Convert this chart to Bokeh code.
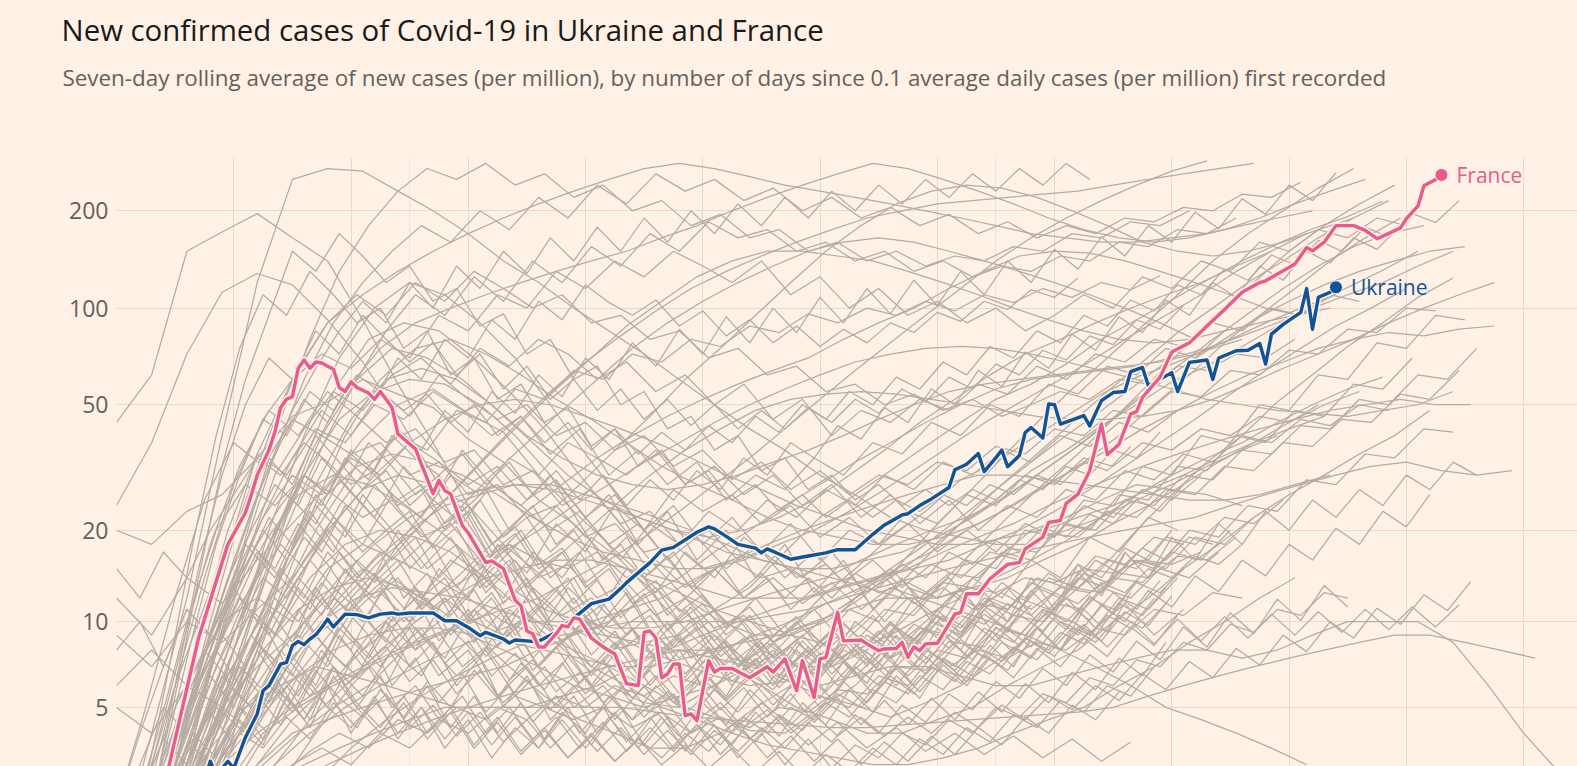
import numpy as np
from jinja2 import Template
from bokeh.plotting import figure
from bokeh.models import Range1d, FixedTicker, CustomJSTickFormatter, Label, Grid, Title
from bokeh.embed import file_html
from bokeh.resources import INLINE

# ---------------- data ----------------
title_text = "New confirmed cases of Covid-19 in Ukraine and France"
subtitle_text = ("Seven-day rolling average of new cases (per million), by number of days "
                 "since 0.1 average daily cases (per million) first recorded")

y_tick_values = [5, 10, 20, 50, 100, 200]
x_grid_days = [20, 40, 60, 80, 100, 120, 140, 160, 180, 200, 220, 240]
y_view = [2.95, 292]
x_view = [0, 249.2]

france_days = [0, 5, 9, 14, 18, 19, 22, 23, 24, 26, 27, 28, 29, 30, 31, 32, 33, 34, 35, 36, 37, 38,
               39, 40, 41, 43, 44, 45, 47, 48, 51, 52, 54, 55, 56, 57, 59, 60, 63, 64, 66, 68,
               69, 70, 71, 72, 73, 75, 76, 77, 78, 79, 81, 83, 85, 87, 89, 90, 91, 92, 93, 94,
               95, 96, 97, 98, 99, 101, 102, 103, 105, 108, 111, 112, 114, 116, 117, 119, 120, 121, 123, 124,
               127, 128, 130, 131, 133, 134, 135, 136, 137, 138, 140, 143, 144, 145, 147, 149, 152, 154, 155, 158,
               159, 161, 162, 164, 166, 168, 169, 171, 173, 174, 175, 178, 180, 183, 186, 189, 192, 195, 196, 199,
               201, 203, 204, 206, 208, 211, 213, 215, 216, 219, 220, 222, 223, 225, 226]
france_cases = [0.1, 1.0, 3.0, 8.8, 15.7, 18, 22.8, 26, 30, 36, 41, 49, 52, 53, 65, 69, 65, 68, 67.5, 66, 64.6, 56.6,
                55, 59, 56.6, 54.4, 52, 55, 49, 40.5, 36.3, 32.5, 26.2, 28.9, 26.8, 26.1, 20.7, 19.6, 15.7, 15.9, 15, 11.8,
                11.3, 9.3, 9.1, 8.2, 8.2, 9.1, 9.7, 9.6, 10.3, 10.2, 8.8, 8.2, 7.75, 6.1, 6.0, 9.2, 9.3, 8.8, 6.4, 6.6,
                7.15, 7.15, 4.66, 4.73, 4.46, 7.35, 6.7, 6.9, 6.9, 6.4, 7.0, 6.7, 7.45, 5.75, 7.35, 5.44, 7.45, 7.55, 10.75, 8.6,
                8.66, 8.4, 7.96, 8.07, 8.1, 8.5, 7.55, 8.2, 7.96, 8.4, 8.44, 10.6, 10.75, 12.4, 12.4, 13.9, 15.5, 15.7, 17.4, 19,
                21.2, 21.5, 24.4, 26.1, 31, 43.5, 34.8, 37.6, 46.8, 47.6, 52.7, 61, 73, 78, 88, 99, 112, 120, 121.5, 130.5,
                137, 154, 150.5, 160, 180, 180, 174, 164, 167, 177, 189, 207, 239, 250, 258]

ukraine_days = [0, 8, 12, 15, 16, 17, 18, 19, 20, 22, 24, 25, 26, 28, 29, 30, 31, 32, 33, 34,
                35, 36, 37, 39, 41, 43, 45, 47, 48, 50, 52, 54, 56, 58, 60, 62, 63, 66, 67, 68,
                71, 72, 75, 79, 81, 84, 86, 87, 91, 93, 95, 99, 101, 102, 104, 106, 109, 110, 111, 113,
                115, 118, 121, 123, 126, 129, 131, 134, 135, 137, 139, 142, 143, 145, 147, 148, 150, 151, 152, 154,
                155, 156, 158, 159, 160, 161, 165, 166, 168, 170, 172, 173, 175, 176, 180, 181, 183, 186, 187, 188,
                191, 193, 195, 196, 197, 199, 202, 203, 204, 205, 207, 208]
ukraine_cases = [0.1, 1.0, 2.0, 2.6, 3.1, 2.7, 2.9, 3.1, 2.9, 3.86, 4.73, 5.75, 6.0, 7.15, 7.25, 8.28, 8.57, 8.35, 8.73, 9.03,
                 9.56, 10.2, 9.6, 10.6, 10.56, 10.3, 10.6, 10.7, 10.6, 10.7, 10.7, 10.7, 10.07, 10.07, 9.56, 8.96, 9.2, 8.73, 8.46, 8.66,
                 8.57, 8.57, 9.2, 10.66, 11.5, 11.9, 12.9, 13.5, 15.7, 17.25, 17.6, 19.7, 20.5, 20.2, 19.1, 18, 17.5, 16.9, 17.4, 16.75,
                 16.1, 16.5, 16.9, 17.3, 17.3, 19.4, 20.8, 22.4, 22.6, 24, 25.2, 27.4, 31.2, 32.5, 35.1, 30.8, 34.1, 36, 31.9, 34.6,
                 40.9, 42.4, 39.3, 50.3, 50, 43.5, 46.2, 42.9, 51.5, 54.6, 55, 63.5, 65.4, 57.3, 63, 55, 67.8, 69, 60, 70,
                 73.7, 74, 77.6, 67, 83, 89, 97, 115, 86, 108, 112, 116]

# other countries, group A: one value every 6 days from the matching offset
other_step_a = 6
other_01 = [44, 62, 150, 172, 196, 165, 140, 92, 58, 38, 24, 16, 12, 9.5, 8, 8.5, 9, 11, 13, 17, 22, 26, 31, 37, 44, 52, 58, 67, 80, 92, 106, 122, 140, 158, 176, 192, 214]
other_02 = [24, 38, 72, 112, 128, 118, 92, 68, 46, 30, 21, 14, 9.5, 7.5, 6, 5.2, 5, 6, 7.5, 9, 12, 15, 19, 23, 29, 33, 39, 46, 54, 61, 67, 74, 80]
other_03 = [20, 18, 23, 26, 34, 46, 51, 60, 54, 49, 39, 33, 25, 21, 16, 14, 12.5, 11, 10, 9.2, 10, 12, 14, 17, 21, 25, 31, 36, 43, 50, 59, 66, 76, 88, 101, 116, 131, 150]
other_04 = [12, 9, 14, 11.5, 16, 21, 28, 39, 50, 56, 47, 41, 30, 23, 18, 14, 11, 9, 7.2, 6.3, 5.5, 5.1, 4.6, 5.2, 6, 7.3, 9, 12, 15, 20, 26, 33, 40, 51, 62, 76, 90, 108, 124]
other_05 = [9, 7, 10, 8.5, 11, 14, 20, 27, 30, 28, 24, 18, 14.5, 11, 9.2, 8, 7.2, 6.5, 6, 6.2, 7, 8, 9, 10.5, 12, 14, 16, 18.5, 22, 26, 30, 34, 38, 44, 50, 56, 61]
other_06 = [6, 8, 6, 10, 12, 10, 15, 18, 16, 14, 12, 10, 9, 8, 7, 6, 5.1, 4.6, 4.1, 4, 5, 6, 8, 10, 13, 16, 20, 22, 25, 28, 27, 26, 24]
other_07 = [5, 4, 6, 5, 7, 9, 12, 15, 13, 11, 9, 8, 7, 6, 5.5, 5, 5.5, 6, 7, 8, 10, 12, 15, 18, 22, 27, 33, 40, 48, 58, 70]
other_08 = [0.5, 1, 3, 7, 15, 30, 55, 80, 90, 85, 70, 55, 42, 30, 22, 16, 12, 10, 9, 9, 10, 12, 15, 20, 26, 34, 44, 56, 70, 88, 110, 140, 170, 200, 235, 270]
other_09 = [0.3, 0.8, 2, 5, 11, 22, 40, 60, 75, 80, 72, 62, 52, 45, 38, 32, 28, 25, 22, 20, 19, 18, 18, 19, 21, 24, 28, 33, 40, 50, 62, 78, 95, 115, 140, 165, 190]
other_10 = [0.5, 1.5, 4, 9, 18, 30, 45, 55, 60, 58, 50, 40, 30, 22, 16, 12, 9, 7, 6, 5, 4.5, 4, 4, 4.5, 5, 6, 7, 8, 10, 12, 15, 18, 22, 26, 30, 35, 40, 48]
other_11 = [0.4, 1, 3, 8, 20, 40, 70, 100, 120, 110, 90, 70, 50, 35, 25, 18, 13, 10, 8, 7, 7, 8, 10, 13, 17, 22, 28, 35, 45, 58, 75, 95, 120, 150, 180, 210, 240]
other_12 = [0.3, 1, 2.5, 6, 14, 28, 45, 60, 65, 60, 50, 40, 34, 30, 28, 27, 28, 30, 33, 36, 40, 45, 50, 55, 58, 60, 62, 64, 66, 68, 72, 80, 90, 100, 110]
other_13 = [0.5, 1.5, 4, 10, 22, 40, 60, 75, 70, 60, 48, 38, 30, 25, 22, 20, 19, 20, 22, 25, 30, 36, 44, 52, 62, 72, 80, 90, 100, 110, 120, 135, 150]
other_14 = [0.4, 1.2, 3.5, 8, 16, 25, 32, 35, 33, 30, 26, 22, 19, 17, 16, 15, 15, 16, 18, 20, 23, 27, 32, 38, 45, 52, 60, 70, 82, 95, 110, 130, 150, 170]
other_15 = [1, 4, 12, 40, 120, 250, 270, 265, 230, 200, 170, 140, 120, 100, 85, 72, 60, 50, 42, 36, 30, 26, 22, 20, 19, 18, 18, 20, 22, 25, 28, 32, 36, 40]
other_16 = [0.3, 0.6, 1, 2, 3, 4, 5, 6, 8, 10, 13, 17, 22, 28, 36, 46, 60, 75, 95, 120, 150, 180, 210, 230, 240, 235, 220, 200, 180, 160, 150, 145, 150, 160, 175, 190]
other_17 = [0.5, 1, 2, 4, 6, 9, 12, 16, 20, 26, 34, 44, 56, 70, 88, 105, 125, 140, 150, 150, 145, 140, 130, 120, 110, 100, 92, 85, 80, 78, 80, 85, 90, 95, 100]
other_18 = [0.4, 1, 2, 3.5, 5, 7, 10, 14, 19, 25, 33, 43, 55, 68, 82, 98, 115, 130, 145, 160, 175, 190, 200, 210, 215, 220, 225, 230, 240, 250, 260, 270, 280]
other_19 = [1, 2, 3, 5, 7, 9, 11, 14, 18, 23, 30, 38, 48, 60, 75, 90, 105, 120, 135, 150, 160, 165, 160, 150, 140, 130, 120, 110, 100, 90, 80]
other_20 = [0.5, 1, 2, 3, 4, 5, 6, 7, 8, 9, 10, 11, 12, 14, 16, 19, 23, 28, 34, 42, 52, 64, 78, 95, 115, 140, 165, 190, 215, 240, 265, 285]
other_21 = [0.3, 0.8, 1.5, 2.5, 4, 5, 6, 7, 8, 9, 10, 12, 15, 19, 24, 30, 36, 42, 48, 52, 54, 55, 54, 52, 50, 48, 46, 45, 45, 46, 48, 52, 58, 65, 72, 80, 90, 100, 110, 120]
other_22 = [0.5, 1, 1.5, 2, 3, 4, 5, 6, 7, 8, 9, 10, 10, 10, 11, 12, 14, 16, 18, 20, 22, 24, 26, 28, 30, 30, 29, 28, 27, 26, 25, 25, 26, 28, 30]
other_23 = [0.4, 0.8, 1.5, 3, 5, 8, 12, 16, 20, 24, 26, 28, 28, 26, 24, 22, 20, 18, 16, 15, 14, 13, 12, 12, 13, 14, 16, 18, 21, 24, 28, 33, 38, 44, 50, 55]
other_24 = [0.3, 0.6, 1.2, 2, 3, 4, 4.5, 5, 5.5, 6, 6.5, 7, 8, 9, 10, 12, 14, 17, 20, 24, 28, 33, 38, 44, 50, 56, 60, 62, 64, 66, 70, 75, 82, 90, 100, 110, 120, 135, 150]
other_25 = [1, 2, 3.5, 5, 6, 7, 6.5, 6, 5.5, 5, 5, 5, 5.5, 6, 7, 8, 9, 10, 11, 12, 13, 14, 15, 16, 18, 20, 23, 27, 32, 38, 45, 54, 64, 75, 88, 100, 115]
other_26 = [0.6, 1.5, 3, 5, 8, 11, 13, 14, 13, 11, 9, 7, 5.5, 4.5, 4, 3.5, 3.5, 4, 5, 6, 8, 10, 13, 17, 22, 28, 35, 44, 55, 68, 84, 100, 120, 140, 165, 190, 215]
other_27 = [0.5, 1.2, 2.5, 5, 9, 14, 18, 20, 19, 17, 14, 11, 9, 7, 6, 5, 4.5, 4, 3.6, 3.4, 3.2, 3, 3, 3.2, 3.5, 4, 4.5, 5, 6, 7, 8.5, 10, 12, 14]
other_28 = [0.4, 1, 2, 4, 7, 10, 12, 13, 12.5, 12, 11, 10, 9.5, 9, 8.5, 8, 8, 8.5, 9, 10, 11, 12, 12, 11, 10, 9, 8, 7, 6, 5, 4.5, 4, 3.5, 3]
other_29 = [0.5, 1.5, 3, 6, 10, 15, 22, 30, 38, 45, 50, 52, 50, 46, 42, 38, 34, 30, 27, 24, 22, 20, 19, 18, 18, 19, 20, 22, 24, 27, 30, 34, 38, 42, 46]
other_30 = [0.3, 0.7, 1.2, 2, 3, 4.5, 6, 8, 10, 12, 14, 17, 20, 24, 28, 33, 38, 44, 50, 56, 62, 68, 72, 75, 76, 75, 72, 68, 64, 60, 56, 52, 50, 48, 47, 46, 48, 50, 55]
other_31 = [0.2, 0.4, 0.8, 1.5, 2.5, 4, 6, 8, 11, 14, 18, 23, 28, 34, 40, 46, 52, 58, 64, 70, 80, 90, 100, 115, 130, 145, 150, 148, 140, 130, 120, 110, 100, 95]
other_32 = [0.6, 1.8, 4.5, 10, 18, 26, 30, 28, 24, 20, 16, 13, 11, 10, 9.5, 9.5, 10, 11, 12, 13, 14, 16, 18, 20, 22, 25, 30, 36, 44, 54, 66, 80, 96, 115, 135, 155, 170, 180]
other_33 = [0.3, 0.6, 1, 1.5, 2, 2.5, 3, 3.5, 4, 4.5, 5, 5.5, 6, 6.5, 7, 7.5, 8, 7.5, 7, 6.5, 6, 6.5, 7, 7, 6.5, 6, 6, 6.5, 7, 7.5, 8, 8, 7.5, 8, 9, 10, 10, 10, 8.5, 6, 4, 2.8]
other_34 = [0.5, 1, 1.5, 2, 2.5, 3, 3.5, 4, 4.5, 5, 5, 5, 5, 5, 5, 4.8, 4.6, 4.5, 4.4, 4.3, 4.2, 4.2, 4.3, 4.4, 4.5, 4.6, 4.7, 4.8, 5, 5.5, 6, 6.5, 7, 7.5, 8, 8.5, 9, 9, 8.5, 8, 7.5]
other_35 = [0.3, 0.6, 1, 1.8, 3, 4.5, 6, 8, 10, 12, 14, 15, 16, 16, 15, 14, 13, 12, 12, 12, 13, 14, 15, 17, 19, 21, 24, 27, 30, 33, 36, 39, 42, 45, 48, 50, 52, 50, 50]
other_36 = [0.4, 1, 2, 3.5, 5, 6.5, 8, 9, 9.5, 9.5, 9, 8.5, 8, 7.5, 7, 7, 7.5, 8, 9, 10, 11.5, 13, 15, 17, 20, 23, 27, 31, 36, 42, 48, 55, 62, 68, 75, 80, 84, 82, 86, 88]
other_37 = [0.5, 1.2, 2.5, 4.5, 7, 10, 14, 18, 22, 25, 27, 28, 27, 25, 23, 21, 19, 17, 16, 15, 15, 16, 17, 19, 22, 26, 31, 37, 45, 55, 66, 78, 92, 105, 118, 130, 140, 150, 155]
other_38 = [0.3, 0.5, 0.8, 1.2, 1.8, 2.5, 3.5, 4.5, 5.5, 6.5, 7.5, 8.5, 9, 9.5, 10, 10, 10, 10, 10.5, 11, 12, 13, 14, 15, 16, 17, 18, 19, 20, 21, 22, 24, 26, 28, 30, 32, 33, 31, 30, 31]
other_39 = [0.5, 2, 6, 15, 35, 60, 90, 110, 130, 150, 170, 190, 210, 230, 250, 270, 280, 270, 255, 240, 230, 220, 210, 200, 190, 180, 170, 165, 160, 160, 165, 170, 180, 190, 200]
other_40 = [0.4, 1, 3, 8, 18, 35, 55, 75, 90, 100, 110, 120, 130, 140, 150, 165, 180, 200, 220, 240, 260, 280, 270, 250, 230, 210, 190, 175, 165, 160, 165, 175, 190, 210, 230, 250]
other_offsets_a = [0, 0, 0, 0, 0, 0, 0, 1, 3, 2, 2, 4, 5, 5, 0, 1, 3, 2, 4, 0,
                   1, 3, 2, 0, 4, 1, 3, 5, 2, 0, 4, 1, 0, 2, 3, 1, 2, 4, 0, 3]

# group B: one value every 5 days from the matching offset
other_step_b = 5
other_41 = [0.5, 2, 6, 14, 28, 45, 60, 72, 65, 80, 70, 95, 85, 110, 100, 130, 115, 140, 125, 150, 135, 120, 140, 110, 125, 100, 115, 95, 105, 90, 100, 85, 95, 110, 100, 125, 115, 140, 130, 160, 150, 175, 165, 190, 180]
other_42 = [0.3, 1, 3, 8, 16, 30, 42, 55, 48, 62, 70, 58, 75, 66, 80, 72, 60, 68, 55, 62, 50, 58, 45, 52, 40, 48, 44, 52, 48, 58, 54, 66, 60, 72, 68, 80, 76, 90, 85, 100, 95, 110, 105]
other_43 = [1, 3, 9, 20, 35, 30, 42, 38, 50, 45, 55, 48, 40, 46, 35, 42, 30, 36, 28, 33, 25, 30, 27, 34, 30, 38, 35, 44, 40, 50, 46, 58, 54, 66, 62, 75, 70, 85]
other_44 = [0.5, 1.5, 4, 10, 22, 40, 65, 90, 110, 95, 120, 105, 130, 115, 100, 110, 90, 95, 80, 85, 70, 75, 62, 66, 55, 58, 50, 54, 48, 52, 46, 50, 55, 52, 60, 58, 66, 64, 72, 70, 80]
other_45 = [0.2, 0.6, 1.5, 3, 6, 10, 16, 24, 32, 40, 36, 48, 44, 56, 52, 64, 60, 72, 68, 80, 76, 88, 84, 96, 90, 100, 95, 105, 98, 110, 104, 115, 108, 120, 114, 126]
other_46 = [0.4, 1.2, 3, 7, 14, 22, 30, 26, 34, 30, 38, 33, 28, 32, 25, 29, 22, 26, 20, 24, 18, 22, 17, 21, 16, 20, 18, 23, 21, 26, 24, 30, 28, 34, 32, 38, 36, 42, 40, 46, 44, 50]
other_47 = [0.5, 1, 2, 4, 7, 11, 16, 22, 18, 26, 22, 30, 26, 34, 30, 38, 34, 30, 36, 28, 32, 26, 30, 24, 28, 22, 26, 21, 25, 20, 24, 22, 27, 25, 31, 29, 35, 33, 40, 38, 45, 43, 50, 48]
other_48 = [0.5, 1.5, 3.5, 7, 12, 9, 14, 11, 16, 13, 10, 12, 8.5, 11, 7.5, 9.5, 6.5, 8.5, 6, 8, 5.5, 7.5, 6, 8.5, 7, 10, 8.5, 12, 10, 14, 12, 16, 14, 19, 17, 22, 20]
other_49 = [0.3, 1, 2.5, 5, 9, 14, 11, 17, 13, 20, 15, 18, 13, 16, 11, 14, 9.5, 12, 8, 10, 7, 9, 6.5, 8, 6, 7.5, 6, 8, 7, 9.5, 8.5, 11, 10, 13, 12, 15, 14, 17]
other_50 = [1, 2.5, 5, 8, 6, 10, 8, 12, 9, 7, 9.5, 6.5, 8, 5.5, 7, 5, 6.5, 4.5, 6, 4.2, 5.5, 4, 5.2, 4.3, 5.5, 5, 6.5, 6, 8, 7.5, 9.5, 9, 11.5, 11, 14, 13.5, 17, 16, 20]
other_51 = [0.4, 1.2, 3, 6, 10, 16, 24, 19, 28, 22, 18, 24, 16, 20, 14, 17, 12, 15, 10.5, 13, 9.5, 12, 9, 11, 8.5, 10.5, 8, 10, 9, 12, 11, 14, 13, 16, 15, 19, 18, 22, 21, 25]
other_52 = [0.6, 2, 5, 10, 18, 14, 22, 17, 26, 20, 15, 19, 13, 16, 11, 14, 9.5, 12.5, 8.5, 11, 8, 10, 7.5, 9, 7, 8.5, 7.5, 9.5, 9, 11.5, 11, 14, 13, 16.5, 15.5, 19, 18]
other_53 = [0.3, 0.8, 2, 4, 7, 5.5, 9, 7, 11, 8.5, 13, 10, 15, 12, 17, 14, 19, 16, 21, 18, 23, 20, 25, 22, 27, 24, 30, 27, 33, 30, 36, 33, 40, 37, 44, 41, 48]
other_54 = [0.5, 1.5, 3.5, 6.5, 5, 8, 6, 9.5, 7.5, 11, 8.5, 6.5, 8, 5.5, 7, 5, 6, 4.5, 5.5, 4, 5, 3.8, 4.6, 3.6, 4.4, 3.5, 4.2, 3.4, 4, 3.3, 3.9, 3.2, 3.8, 3.1, 3.7]
other_55 = [0.4, 1, 2, 3.5, 5.5, 8, 6.5, 10, 8, 12.5, 10, 15, 12, 18, 14.5, 21, 17, 24, 20, 27, 23, 26, 21, 24, 19, 22, 18, 21, 17, 20, 17, 21, 19, 24, 22, 27, 25, 30]
other_56 = [1, 2, 3.5, 5, 4, 6, 4.5, 7, 5.5, 8, 6.5, 9.5, 7.5, 11, 9, 13, 10.5, 15, 12.5, 17, 14, 19, 16, 14, 17, 13, 15, 12, 14, 11, 13, 10, 12, 9.5, 11.5, 9, 11]
other_57 = [0.5, 1.2, 2.5, 4.5, 8, 13, 20, 28, 22, 32, 25, 36, 28, 24, 30, 21, 26, 18, 23, 16, 20, 14, 18, 12.5, 16, 11, 14, 10, 13, 9.5, 12, 11, 14, 13, 16, 15, 19, 18, 22]
other_58 = [0.3, 0.7, 1.5, 3, 5, 4, 6.5, 5, 8, 6, 9.5, 7.5, 11, 9, 13, 10.5, 12, 9.5, 11, 8.5, 10, 7.5, 9, 7, 8.5, 6.5, 8, 6, 7.5, 6.5, 8.5, 7.5, 10, 9, 12, 11, 14]
other_59 = [0.3, 0.6, 1, 1.5, 2, 2.5, 3, 3.5, 3, 4, 3.5, 4.5, 4, 5, 4.5, 5.5, 5, 6, 5.5, 6.5, 6, 7.5, 7, 9, 8.5, 11, 10, 13, 12, 16, 15, 20, 19, 25, 24, 32, 30, 40, 38, 50, 48, 62, 60, 78, 75, 95, 92]
other_60 = [0.2, 0.5, 0.9, 1.4, 2, 2.7, 3.4, 4, 3.5, 4.5, 4, 5, 4.5, 5.5, 5, 4.5, 5, 4.2, 4.8, 4, 4.6, 4.2, 5, 4.8, 5.8, 5.6, 7, 6.8, 8.5, 8.2, 10.5, 10, 13, 12.5, 16, 15.5, 20, 19, 24, 23, 29, 28, 35, 34, 42, 41]
other_61 = [0.4, 0.8, 1.5, 2.5, 4, 6, 5, 8, 6.5, 10, 8, 12, 10, 9, 11, 8.5, 10, 8, 9.5, 7.5, 9, 7, 8.5, 7, 9, 8.5, 11, 10.5, 13.5, 13, 17, 16, 21, 20, 26, 25, 32, 31, 40, 38, 48, 46, 58, 56, 70]
other_62 = [0.5, 1, 2, 3, 4.5, 6.5, 9, 12, 10, 14, 12, 16, 14, 18, 16, 15, 17, 14, 16, 13, 15, 12, 14, 11.5, 13.5, 11, 13, 12, 14.5, 14, 17.5, 17, 21, 20, 25, 24, 30, 29, 36, 35, 43, 42, 52, 50, 62, 60, 75]
other_63 = [0.3, 0.7, 1.3, 2.2, 3.5, 5, 7, 10, 14, 19, 25, 21, 28, 24, 20, 23, 18, 21, 16, 19, 15, 18, 14, 17, 13.5, 16, 13, 15.5, 14, 17, 16, 19.5, 19, 23, 22, 27, 26, 32, 31, 38, 37, 45, 44, 54, 52, 64]
other_64 = [0.5, 1.5, 3.5, 7, 13, 22, 34, 48, 40, 55, 46, 62, 52, 45, 50, 40, 44, 36, 40, 32, 36, 29, 33, 27, 31, 26, 30, 28, 33, 31, 37, 35, 42, 40, 48, 46, 55, 53, 64, 62, 74, 72, 86, 84, 100, 98]
other_65 = [0.4, 1, 3, 8, 18, 35, 60, 90, 120, 150, 180, 160, 200, 175, 220, 190, 240, 210, 260, 230, 250, 215, 235, 200, 220, 190, 205, 180, 195, 170, 185, 165, 180, 170, 190, 185, 205, 200, 225, 220, 245]
other_66 = [0.3, 0.8, 2, 4, 8, 15, 25, 40, 60, 85, 110, 95, 125, 105, 140, 120, 155, 135, 170, 150, 185, 165, 175, 150, 160, 140, 150, 130, 140, 125, 135, 130, 145, 140, 160, 155, 175, 170, 190]
other_67 = [0.5, 1.5, 4, 10, 22, 45, 80, 130, 180, 230, 270, 250, 280, 240, 260, 220, 240, 200, 215, 180, 195, 165, 175, 150, 160, 140, 150, 135, 145, 140, 155, 150, 170, 165, 185, 180, 200]
other_68 = [2, 5, 12, 25, 38, 32, 45, 40, 35, 38, 30, 33, 26, 28, 22, 24, 19, 21, 17, 18, 15, 16, 14, 15, 13, 14, 12.5, 13.5, 12, 13, 12.5, 14, 13.5, 15, 14.5, 16, 15.5, 17]
other_69 = [1, 3, 8, 18, 32, 48, 40, 55, 46, 38, 42, 33, 36, 28, 31, 24, 27, 21, 23, 18, 20, 16, 17.5, 14, 15.5, 12.5, 14, 11.5, 13, 11, 12.5, 11, 13, 12.5, 14.5, 14, 16.5, 16, 19]
other_70 = [1.5, 4, 10, 20, 28, 24, 30, 26, 22, 25, 19, 21, 16, 18, 14, 15.5, 12, 13.5, 10.5, 12, 9.5, 10.5, 8.5, 9.5, 8, 9, 7.5, 8.5, 7, 8, 7.5, 8.5, 8, 9.5, 9, 11, 10.5, 12.5, 12]
other_offsets_b = [0, 2, 4, 1, 3, 0, 2, 1, 3, 0, 4, 2, 1, 3, 0, 2, 4, 1, 0, 3,
                   1, 2, 4, 0, 2, 1, 3, 0, 1, 2]

# group C: one value every 4 days from the matching offset
other_step_c = 4
other_71 = [1.5, 3, 5, 4, 6.5, 5, 8, 6, 4.5, 6, 4, 5.5, 3.8, 5, 3.5, 4.5, 3.2, 4.2, 3.5, 4.8, 4, 5.5, 4.5, 6, 5, 6.8, 5.5, 7.5, 6, 8, 6.5, 9, 7, 10, 8, 11, 9, 12.5, 10, 14, 11, 15.5, 12.5, 17, 14, 19, 16, 21, 18, 23, 20, 25, 22, 27, 24, 30, 27, 33, 30]
other_72 = [0.5, 1.5, 3.5, 6, 9, 7, 11, 8.5, 13, 10, 8, 10, 7, 8.5, 6, 7.5, 5, 6.5, 4.5, 5.5, 4, 5, 3.6, 4.6, 3.4, 4.3, 3.2, 4, 3, 3.8, 2.9, 3.6, 3.2, 4, 3.6, 4.5, 4, 5, 4.6, 5.6, 5.2, 6.4, 6, 7.4, 7, 8.5, 8, 9.8, 9.2, 11, 10.5, 12.5, 12]
other_73 = [0.3, 0.8, 2, 4, 7, 10, 14, 12, 16, 13, 11, 13, 10, 12, 9, 11, 8.2, 10, 7.5, 9, 7, 8.5, 6.5, 8, 6.2, 7.6, 6, 7.4, 6.2, 7.8, 6.8, 8.6, 7.6, 9.5, 8.5, 10.5, 9.5, 11.5, 10.5, 13, 12, 14.5, 13.5, 16, 15, 18]
other_74 = [1, 2, 3, 4.5, 6, 5, 7, 5.5, 8, 6, 7, 5, 6, 4.5, 5.5, 4, 5, 3.8, 4.6, 3.5, 4.4, 3.4, 4.2, 3.4, 4.3, 3.6, 4.6, 4, 5, 4.5, 5.6, 5, 6.2, 5.6, 7, 6.2, 7.8, 7, 8.8, 8, 10, 9, 11.5, 10.5, 13]
other_75 = [2, 4, 7, 11, 9, 13, 10, 15, 12, 17, 14, 12, 14, 11, 13, 10, 12, 9, 11, 8.5, 10, 8, 9.5, 7.5, 9, 7.2, 8.6, 7, 8.4, 7, 8.5, 7.5, 9, 8, 9.8, 9, 10.5, 9.8, 11.5, 10.5, 12.5, 11.5, 13.5, 12.5, 15, 14, 16.5, 15.5, 18]
other_76 = [0.4, 1, 2.5, 5, 9, 15, 22, 18, 26, 21, 17, 20, 15, 18, 13, 16, 11.5, 14, 10, 12, 9, 11, 8, 10, 7.5, 9, 7, 8.5, 6.8, 8.2, 6.6, 8, 6.8, 8.4, 7.2, 9, 8, 10, 9, 11, 10, 12, 11, 13.5, 12.5, 15]
other_77 = [0.5, 1.2, 2.4, 4, 3.2, 5, 3.8, 6, 4.5, 7, 5.2, 4.2, 5.5, 4, 5, 3.6, 4.6, 3.4, 4.2, 3.2, 4, 3.1, 3.8, 3, 3.6, 2.9, 3.5, 2.8, 3.4, 2.7, 3.3, 2.8, 3.5, 3, 3.8, 3.3, 4.2, 3.7, 4.7, 4.2, 5.3, 4.8, 6, 5.5, 7]
other_78 = [0.6, 1.8, 4, 8, 14, 20, 28, 24, 34, 28, 38, 32, 26, 30, 23, 27, 20, 24, 18, 21, 16, 19, 14.5, 17, 13, 15.5, 12, 14, 11, 13, 10.5, 12.5, 10, 12, 10.5, 12.5, 11, 13.5, 12, 14.5, 13, 16, 14.5, 17.5, 16, 19, 18]
other_79 = [0.3, 0.7, 1.4, 2.5, 4, 6, 8.5, 7, 10, 8, 12, 9.5, 8, 9.5, 7.2, 8.6, 6.5, 7.8, 6, 7.2, 5.6, 6.8, 5.4, 6.5, 5.2, 6.3, 5.4, 6.6, 5.8, 7.2, 6.4, 8, 7.2, 9, 8.2, 10.5, 9.5, 12, 11, 13.5, 12.5, 15.5, 14, 17.5, 16, 20]
other_80 = [1, 3, 6, 10, 16, 24, 34, 28, 40, 33, 27, 31, 24, 28, 21, 25, 19, 22, 17, 20, 15.5, 18, 14, 16.5, 13, 15, 12.5, 14.5, 12, 14, 12, 14.5, 13, 15.5, 14, 17, 15.5, 18.5, 17, 20.5, 19, 22.5, 21, 25, 23, 28]
other_81 = [0.4, 1, 2, 3.5, 3, 4.5, 3.6, 5.5, 4.2, 6.5, 5, 4, 5.2, 3.8, 4.8, 3.5, 4.4, 3.3, 4.1, 3.2, 3.9, 3.1, 3.8, 3.2, 4, 3.4, 4.3, 3.7, 4.7, 4.1, 5.2, 4.6, 5.8, 5.2, 6.5, 5.8, 7.3, 6.6, 8.2, 7.4, 9.2, 8.4, 10.5, 9.5, 12]
other_82 = [0.5, 1.5, 3.5, 7, 12, 18, 15, 21, 17, 24, 19, 16, 19, 14, 17, 12.5, 15, 11, 13, 10, 11.5, 9, 10.5, 8.2, 9.6, 7.6, 8.8, 7, 8.2, 6.6, 7.8, 6.4, 7.6, 6.5, 7.8, 6.8, 8.2, 7.3, 8.8, 7.8, 9.5, 8.5, 10.5, 9.5, 11.5]
other_83 = [0.5, 2, 6, 15, 30, 50, 70, 60, 85, 72, 95, 80, 68, 78, 62, 72, 56, 66, 52, 60, 48, 56, 45, 52, 43, 50, 42, 48, 42, 49, 44, 52, 47, 56, 51, 61, 56, 67, 62, 74, 69, 82, 77, 92, 86, 102]
other_84 = [0.3, 0.8, 2, 4.5, 9, 16, 26, 38, 52, 44, 60, 52, 70, 60, 80, 70, 92, 80, 105, 92, 118, 104, 95, 106, 88, 98, 82, 92, 78, 88, 76, 86, 78, 90, 84, 97, 91, 105, 99, 114, 108, 124]
other_85 = [0.5, 1.5, 3, 5, 8, 6, 10, 7, 5.5, 7, 5, 6.5, 4.5, 6, 4.2, 5.5, 4, 5.2, 3.8, 5, 3.6, 4.8, 3.5, 4.6, 3.4, 4.5, 3.6, 4.8, 3.9, 5.2, 4.3, 5.8, 4.8, 6.5, 5.4, 7.3, 6.2, 8.3, 7, 9.5, 8, 11, 9.2, 12.5]
other_86 = [0.4, 1, 2.2, 4, 6.5, 9, 7, 11, 8.5, 7, 9, 6, 7.5, 5.2, 6.6, 4.8, 6, 4.4, 5.5, 4, 5, 3.7, 4.6, 3.5, 4.3, 3.3, 4.1, 3.2, 3.9, 3.1, 3.8, 3, 3.7, 3.1, 3.9, 3.3, 4.2, 3.6, 4.6, 4, 5.1, 4.5, 5.7]
other_87 = [0.6, 1.6, 3.2, 5.5, 8.5, 12, 17, 14, 19, 15.5, 12, 14.5, 10.5, 12.5, 9, 11, 8, 9.5, 7, 8.5, 6.4, 7.8, 6, 7.2, 5.6, 6.8, 5.3, 6.4, 5.1, 6.2, 5, 6.2, 5.2, 6.5, 5.6, 7, 6.1, 7.7, 6.8, 8.6, 7.6, 9.6, 8.6, 10.8, 9.7, 12.2]
other_88 = [0.3, 0.8, 1.6, 2.8, 4.4, 6.4, 5.2, 7.6, 6, 9, 7, 8.2, 6.2, 7.4, 5.6, 6.8, 5.2, 6.3, 4.9, 6, 4.7, 5.8, 4.6, 5.7, 4.6, 5.8, 4.8, 6, 5, 6.4, 5.4, 7, 6, 7.8, 6.6, 8.6, 7.4, 9.6, 8.3, 10.8, 9.4, 12.2, 10.6, 13.8]
other_89 = [0.5, 1.4, 3, 5.5, 9, 14, 20, 16, 23, 18, 14, 17, 12, 14.5, 10.5, 12.8, 9.4, 11.4, 8.5, 10.2, 7.7, 9.3, 7.1, 8.6, 6.6, 8, 6.2, 7.5, 5.9, 7.2, 5.7, 7, 5.6, 6.9, 5.7, 7.1, 6, 7.5, 6.4, 8.1, 7, 8.8, 7.6, 9.6, 8.3, 10.5]
other_90 = [0.4, 1.1, 2.4, 4.4, 7.2, 11, 9, 13, 10.5, 15, 12, 10, 12, 8.6, 10.2, 7.6, 9.2, 6.8, 8.2, 6.1, 7.4, 5.6, 6.8, 5.2, 6.3, 4.9, 5.9, 4.6, 5.6, 4.4, 5.4, 4.3, 5.3, 4.3, 5.4, 4.5, 5.7, 4.8, 6.1, 5.2, 6.7, 5.8, 7.5, 6.5, 8.5]
other_91 = [1, 2.2, 3.8, 3, 4.8, 3.6, 5.6, 4.3, 6.6, 5, 4.2, 5.3, 4, 5, 3.8, 4.8, 3.6, 4.6, 3.5, 4.5, 3.5, 4.6, 3.6, 4.8, 3.9, 5.2, 4.3, 5.8, 4.8, 6.5, 5.4, 7.3, 6.1, 8.3, 7, 9.5, 8, 11, 9.2, 12.7, 10.6, 14.6, 12.2, 16.8]
other_92 = [0.5, 1.3, 2.7, 4.8, 7.8, 12, 18, 25, 21, 29, 24, 20, 23, 17.5, 20.5, 15, 18, 13, 15.5, 11.5, 13.8, 10.3, 12.4, 9.3, 11.2, 8.6, 10.3, 8.1, 9.7, 7.8, 9.4, 7.7, 9.3, 7.8, 9.5, 8.1, 9.9, 8.6, 10.6, 9.3, 11.5, 10.1, 12.5, 11, 13.7]
other_93 = [15, 12, 17, 14, 20, 26, 34, 30, 38, 33, 28, 31, 24, 27, 20, 23, 17, 19.5, 15, 17, 13, 15, 11.5, 13, 10, 11.5, 9, 10.5, 8.5, 10, 8.2, 9.8, 8.3, 10, 8.6, 10.5, 9.2, 11.3, 10, 12.3]
other_94 = [8, 10, 7, 11, 9, 13, 18, 24, 30, 26, 35, 30, 25, 28, 21, 24, 18, 20.5, 15.5, 17.5, 13.5, 15.5, 12, 13.7, 10.8, 12.3, 9.8, 11.2, 9, 10.4, 8.5, 9.9, 8.3, 9.8, 8.4, 10, 8.8, 10.6, 9.4, 11.4]
other_95 = [0.8, 2.5, 7, 18, 40, 75, 110, 95, 130, 110, 90, 100, 75, 85, 62, 70, 52, 58, 44, 49, 37, 42, 32, 36, 28, 31, 25, 28, 23, 26, 22, 25, 22, 25, 23, 26, 24, 28, 26, 30, 28, 33, 31, 37]
other_96 = [0.6, 2, 5.5, 14, 32, 60, 95, 150, 130, 170, 145, 120, 135, 105, 115, 88, 96, 72, 80, 60, 66, 50, 55, 42, 46, 36, 40, 31, 34, 27, 30, 25, 28, 24, 27, 24, 27, 25, 29, 27, 32, 30, 36, 34, 41]
other_97 = [0.5, 1.5, 4, 9, 18, 30, 45, 40, 55, 48, 62, 55, 48, 54, 44, 50, 40, 46, 38, 44, 36, 42, 35, 41, 36, 43, 38, 46, 41, 50, 45, 55, 50, 61, 56, 68, 62, 76, 70, 85, 78, 95, 88, 106, 98, 118, 110, 132, 122, 146, 136, 162, 150, 178, 166, 196, 184, 215]
other_98 = [0.3, 0.9, 2.2, 4.5, 8, 13, 20, 28, 24, 34, 29, 40, 34, 30, 35, 28, 33, 26, 31, 25, 30, 24, 29, 25, 31, 27, 34, 30, 38, 34, 43, 39, 49, 44, 56, 50, 64, 57, 73, 65, 83, 74, 94, 84, 106, 95, 120, 108, 135, 122, 150, 138, 165, 152, 180]
other_99 = [0.4, 1.2, 3, 6.5, 12, 20, 32, 48, 65, 85, 105, 90, 120, 100, 135, 115, 150, 128, 165, 140, 178, 150, 190, 160, 200, 170, 210, 180, 220, 190, 230, 200, 240, 210, 250, 220, 260, 230, 270, 240, 280, 250]
other_100 = [0.3, 0.7, 1.5, 3, 5.5, 9, 14, 21, 30, 26, 36, 31, 42, 36, 48, 41, 55, 47, 62, 53, 70, 60, 78, 66, 86, 72, 94, 78, 100, 84, 108, 90, 115, 96, 122, 102, 130, 110, 140, 120, 152, 132, 166, 145, 180, 160, 198, 176, 218, 195, 240, 215, 262]
other_101 = [0.3, 0.6, 1.2, 2, 3, 4, 3.5, 4.6, 3.8, 5.2, 4.2, 5.8, 4.6, 6.2, 5, 6.8, 5.4, 7.2, 5.8, 7.6, 6, 7.8, 6.2, 8, 6.4, 8.2, 6.6, 8.4, 6.8, 8.6, 7, 8.8, 7.2, 9, 7.4, 9.2, 7.6, 9.4, 7.8, 9.6, 8, 9.8, 8.2, 10, 8.4, 10.2, 8.6, 10.4, 8.8, 10.6, 9, 10.8, 9.2, 11, 9.4, 11.2, 9.6, 11.4]
other_102 = [0.4, 1, 2, 3.4, 5, 4.2, 6, 4.8, 6.8, 5.4, 4.6, 5.6, 4.2, 5.1, 3.9, 4.8, 3.7, 4.5, 3.5, 4.3, 3.4, 4.2, 3.3, 4.1, 3.3, 4.1, 3.4, 4.2, 3.5, 4.4, 3.7, 4.7, 4, 5.1, 4.4, 5.6, 4.9, 6.2, 5.4, 6.9, 6, 7.7, 6.7, 8.6, 7.4, 9.6, 8.2, 10.7, 9.1, 11.9, 10.1, 13.2, 11.2]
other_103 = [0.5, 1.3, 2.6, 4.4, 6.6, 9, 12, 10, 13.5, 11, 9, 10.5, 8, 9.2, 7, 8.2, 6.3, 7.4, 5.7, 6.7, 5.2, 6.1, 4.8, 5.6, 4.5, 5.2, 4.2, 4.9, 4, 4.7, 3.9, 4.6, 3.9, 4.6, 4, 4.8, 4.2, 5.1, 4.5, 5.5, 4.9, 6, 5.3, 6.6, 5.8, 7.3, 6.4, 8.1, 7.1, 9, 7.9, 10, 8.8, 11.1, 9.8, 12.3, 10.9, 13.6]
other_104 = [0.6, 1.5, 3, 5, 7.5, 10.5, 14, 18, 15, 20, 16.5, 13.5, 16, 12, 14, 10.5, 12.5, 9.4, 11.2, 8.5, 10.2, 7.8, 9.4, 7.3, 8.8, 6.9, 8.3, 6.6, 8, 6.4, 7.8, 6.4, 7.9, 6.6, 8.2, 7, 8.7, 7.5, 9.4, 8.2, 10.3, 9, 11.4, 10, 12.7, 11.2, 14.2, 12.6, 16, 14.2, 18, 16, 20.3, 18, 23, 20.5, 26]
other_offsets_c = [0, 2, 1, 3, 0, 2, 1, 3, 0, 2, 1, 3, 2, 0,
                   1, 3, 0, 2, 1, 3, 0, 2, 0, 0, 1, 2,
                   1, 3, 2, 0, 1, 2, 3, 0]

others_a = [other_01, other_02, other_03, other_04, other_05, other_06, other_07, other_08, other_09, other_10,
            other_11, other_12, other_13, other_14, other_15, other_16, other_17, other_18, other_19, other_20,
            other_21, other_22, other_23, other_24, other_25, other_26, other_27, other_28, other_29, other_30,
            other_31, other_32, other_33, other_34, other_35, other_36, other_37, other_38, other_39, other_40]
others_b = [other_41, other_42, other_43, other_44, other_45, other_46, other_47, other_48, other_49, other_50,
            other_51, other_52, other_53, other_54, other_55, other_56, other_57, other_58, other_59, other_60,
            other_61, other_62, other_63, other_64, other_65, other_66, other_67, other_68, other_69, other_70]
others_c = [other_71, other_72, other_73, other_74, other_75, other_76, other_77, other_78, other_79, other_80,
            other_81, other_82, other_83, other_84, other_85, other_86, other_87, other_88, other_89, other_90,
            other_91, other_92, other_93, other_94, other_95, other_96, other_97, other_98, other_99, other_100,
            other_101, other_102, other_103, other_104]

# ---------------- style ----------------
BG = "#FFF1E5"
GRID = "#E6D9CE"
GREY = "#B5ABA3"
PINK = "#EA5B8D"
BLUE = "#0F5499"
MUTED = "#66605C"
FONT = "Open Sans"


def tr(v):
    # the chart's vertical scale: log of (value + 1)
    return np.log10(np.asarray(v, dtype=float) + 1.0)


def pair(days, vals):
    n = min(len(days), len(vals))
    return list(days[:n]), list(tr(vals[:n]))


p = figure(width=1577, height=766, output_backend="svg", toolbar_location=None,
           x_range=Range1d(*x_view), y_range=Range1d(*tr(y_view)),
           x_axis_location=None,
           min_border_left=116, min_border_right=0, min_border_top=157, min_border_bottom=0,
           background_fill_color=BG, border_fill_color=BG, outline_line_color=None)

p.add_layout(Grid(dimension=0, ticker=FixedTicker(ticks=x_grid_days),
                  grid_line_color=GRID, grid_line_width=1))

p.yaxis.ticker = FixedTicker(ticks=list(tr(y_tick_values)))
p.yaxis.formatter = CustomJSTickFormatter(code="return String(Math.round(Math.pow(10, tick) - 1));")
p.yaxis.axis_line_color = None
p.yaxis.major_tick_line_color = None
p.yaxis.minor_tick_line_color = None
p.yaxis.major_tick_out = 0
p.yaxis.major_label_standoff = 8
p.yaxis.major_label_text_font = FONT
p.yaxis.major_label_text_font_size = "23px"
p.yaxis.major_label_text_color = MUTED
p.ygrid.grid_line_color = GRID
p.ygrid.grid_line_width = 1

# grey lines for the other countries
xs, ys = [], []
for group, offsets, step in ((others_a, other_offsets_a, other_step_a),
                             (others_b, other_offsets_b, other_step_b),
                             (others_c, other_offsets_c, other_step_c)):
    for vals, off in zip(group, offsets):
        xs.append([off + step * i for i in range(len(vals))])
        ys.append(list(tr(vals)))
p.multi_line(xs, ys, line_color=GREY, line_width=1.25, line_join="round")

# highlighted countries
uk_x, uk_y = pair(ukraine_days, ukraine_cases)
fr_x, fr_y = pair(france_days, france_cases)
for xx, yy, col in ((uk_x, uk_y, BLUE), (fr_x, fr_y, PINK)):
    p.line(xx, yy, line_color=BG, line_width=6.5, line_join="round", line_cap="round")
    p.line(xx, yy, line_color=col, line_width=3.4, line_join="round", line_cap="round")
    p.scatter([xx[-1]], [yy[-1]], size=13, fill_color=col, line_color=BG, line_width=1)

for xx, yy, col, name in ((uk_x, uk_y, BLUE, "Ukraine"), (fr_x, fr_y, PINK, "France")):
    p.add_layout(Label(x=xx[-1], y=yy[-1], x_offset=15, text=name, text_baseline="middle",
                       text_font=FONT, text_font_size="21px", text_color=col))

# title block (stacked upwards from the plot area)
p.title.text = ""
p.add_layout(Title(text=" ", text_font_size="1px", standoff=57), "above")
p.add_layout(Title(text=subtitle_text, align="left", offset=-54, standoff=10,
                   text_font=FONT, text_font_size="22.4px", text_font_style="normal",
                   text_color=MUTED), "above")
p.add_layout(Title(text=title_text, align="left", offset=-55, standoff=10,
                   text_font=FONT, text_font_size="29.4px", text_font_style="normal",
                   text_color="#1a1a1a"), "above")

template = Template("""<!DOCTYPE html>
<html lang="en">
<head>
<meta charset="utf-8">
<title>{{ title }}</title>
<style>html, body { margin: 0; padding: 0; background: #FFF1E5; overflow: hidden; }</style>
{{ bokeh_css }}
{{ bokeh_js }}
</head>
<body>
{{ plot_div }}
{{ plot_script }}
</body>
</html>
""")

open("out.html", "w").write(file_html(p, INLINE, title="Covid-19 Ukraine and France", template=template))
